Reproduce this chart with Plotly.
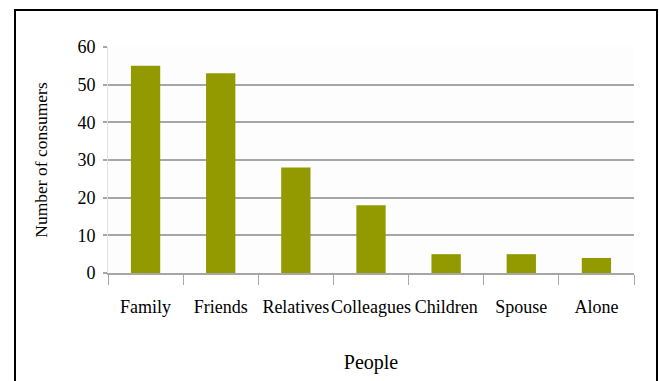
import plotly.graph_objects as go

categories = ["Family", "Friends", "Relatives", "Colleagues", "Children", "Spouse", "Alone"]
consumers = [55, 53, 28, 18, 5, 5, 4]
y_ticks = [0, 10, 20, 30, 40, 50, 60]

BAR = "#929a00"
GRID = "#a6a6a6"
FONT = "Liberation Serif, Times New Roman, serif"

PL, PR, PT, PB = 108, 634, 47, 273.5  # plot area in page pixels
W, H = 659, 381

fig = go.Figure(go.Bar(
    x=categories, y=consumers, marker_color=BAR, marker_line_width=0, width=0.39,
))

fig.update_layout(
    width=W, height=H,
    margin=dict(l=PL, r=W - PR, t=PT, b=H - PB, autoexpand=False),
    paper_bgcolor="white", plot_bgcolor="#fdfdfd",
    font=dict(family=FONT, size=17, color="black"),
    showlegend=False,
)
fig.update_xaxes(
    automargin=False, tickangle=0,
    showgrid=False, showline=True, linecolor=GRID, linewidth=1.5,
    ticks="outside", tickson="boundaries", ticklen=10, tickcolor=GRID, tickwidth=1,
    tickfont=dict(size=18), ticklabelstandoff=17,
    title=dict(text="People", standoff=39, font=dict(size=20)),
)
fig.update_yaxes(
    automargin=False,
    range=[0, 60], tickvals=y_ticks, showgrid=True, gridcolor=GRID, gridwidth=1.5,
    zeroline=False, showline=True, linecolor="#e2e2e2", linewidth=1,
    ticks="outside", ticklen=4, tickcolor=GRID, tickwidth=1.5,
    tickfont=dict(size=18), ticklabelstandoff=4,
    title=dict(text="Number of consumers", standoff=25, font=dict(size=17.5)),
)
fig.add_shape(type="rect", xref="paper", yref="paper",
              x0=(15 - PL) / (PR - PL), x1=(657 - PL) / (PR - PL),
              y0=-0.7, y1=(PB - 10) / (PB - PT),
              line=dict(color="black", width=2), fillcolor="rgba(0,0,0,0)", layer="above")

fig.write_html("out.html", config={"displayModeBar": False},
               post_script="document.body.style.margin='0';")
